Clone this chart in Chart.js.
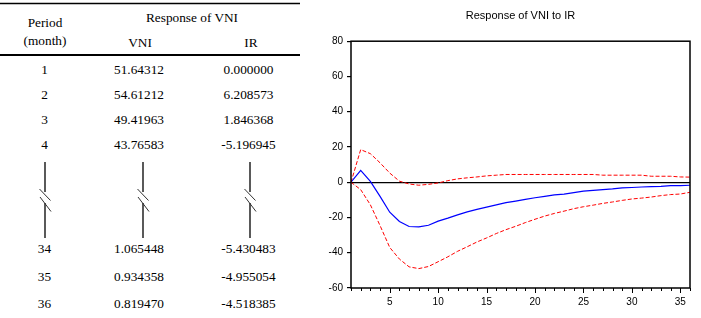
<!DOCTYPE html>
<html>
<head>
<meta charset="utf-8">
<script src="https://cdn.jsdelivr.net/npm/chart.js@4/dist/chart.umd.min.js"></script>
<style>
  html, body { margin: 0; padding: 0; background: #fff; }
  #wrap { position: relative; width: 701px; height: 318px; overflow: hidden; }
  #tbl { position: absolute; left: 0; top: 0; }
  #c { position: absolute; left: 0; top: 0; }
</style>
</head>
<body>
<div id="wrap">
  <svg id="tbl" width="310" height="318" xmlns="http://www.w3.org/2000/svg"></svg>
  <canvas id="c" width="701" height="318"></canvas>
</div>
<script>
// ---------- Table data ----------
const tablePeriods = ['1', '2', '3', '4', '34', '35', '36'];
const tableVNI = ['51.64312', '54.61212', '49.41963', '43.76583', '1.065448', '0.934358', '0.819470'];
const tableIR = ['0.000000', '6.208573', '1.846368', '-5.196945', '-5.430483', '-4.955054', '-4.518385'];

// ---------- Chart data ----------
const periods = [1,2,3,4,5,6,7,8,9,10,11,12,13,14,15,16,17,18,19,20,21,22,23,24,25,26,27,28,29,30,31,32,33,34,35,36];
const response = [0, 6.7, 0.5, -8, -17, -22.3, -25.1, -25.3, -24.4, -22.1, -20.4, -18.5, -16.8, -15.4, -14.1, -12.8, -11.6, -10.7, -9.7, -8.8, -8.0, -7.2, -6.7, -5.9, -5.1, -4.6, -4.2, -3.8, -3.2, -3.0, -2.7, -2.5, -2.3, -1.9, -1.9, -1.7];
const upperBand = [0, 18.5, 16.2, 11.0, 5.2, 0.6, -1.0, -1.7, -1.2, -0.4, 0.9, 1.9, 2.5, 3.0, 3.6, 4.0, 4.4, 4.4, 4.4, 4.4, 4.4, 4.4, 4.4, 4.4, 4.4, 4.4, 4.0, 4.0, 4.0, 4.0, 4.0, 3.4, 3.4, 3.4, 3.0, 2.9];
const lowerBand = [0, -4.2, -12.8, -24.6, -37, -43.6, -48, -49, -47.8, -45.1, -42.3, -39.2, -36.6, -33.9, -31.6, -29.1, -26.9, -25, -22.9, -21, -19.2, -17.7, -16.4, -15, -13.9, -13, -12, -11.2, -10.3, -9.5, -9.0, -8.4, -7.6, -7.0, -6.7, -5.7];
const yTicks = [-60, -40, -20, 0, 20, 40, 60, 80];
const chartTitle = 'Response of VNI to IR';

// ---------- Draw table (SVG text) ----------
(function () {
  const svg = document.getElementById('tbl');
  const NS = 'http://www.w3.org/2000/svg';
  function text(str, x, y) {
    const t = document.createElementNS(NS, 'text');
    t.setAttribute('x', x); t.setAttribute('y', y);
    t.setAttribute('text-anchor', 'middle');
    t.setAttribute('font-family', 'Liberation Serif, Times New Roman, serif');
    t.setAttribute('font-size', '13.3');
    t.setAttribute('fill', '#000');
    t.textContent = str;
    svg.appendChild(t);
  }
  function line(x1, y1, x2, y2, w, col) {
    const l = document.createElementNS(NS, 'line');
    l.setAttribute('x1', x1); l.setAttribute('y1', y1);
    l.setAttribute('x2', x2); l.setAttribute('y2', y2);
    l.setAttribute('stroke', col || '#000');
    l.setAttribute('stroke-width', w);
    svg.appendChild(l);
  }
  line(0, 3.5, 300, 3.5, 1.5);
  line(0, 55, 300, 55, 1.8);
  text('Period', 45, 27);
  text('(month)', 45, 45);
  text('Response of VNI', 192, 21.5);
  text('VNI', 140, 46.5);
  text('IR', 251, 46.5);
  const baselines = [74, 99, 124, 148.5, 253, 280.5, 308];
  for (let i = 0; i < tablePeriods.length; i++) {
    text(tablePeriods[i], 44.5, baselines[i]);
    text(tableVNI[i], 139, baselines[i]);
    text(tableIR[i], 248.5, baselines[i]);
  }
  [45, 143, 250].forEach(function (x) {
    line(x, 162, x, 192, 1.3);
    line(x, 203, x, 238, 1.3);
    line(x - 5.5, 189, x + 5.5, 200.5, 1, '#333');
    line(x - 5, 197, x + 6, 211.5, 1, '#333');
  });
})();

// ---------- Chart ----------
const pts = function (arr) { return periods.map(function (p, i) { return { x: p, y: arr[i] }; }); };

const framePlugin = {
  id: 'frame',
  afterDraw: function (chart) {
    const ctx = chart.ctx;
    const a = chart.chartArea;
    const xs = chart.scales.x;
    ctx.save();
    ctx.strokeStyle = '#000';
    ctx.lineWidth = 1.5;
    ctx.strokeRect(a.left, a.top, a.right - a.left, a.bottom - a.top);
    ctx.lineWidth = 1;
    for (let v = 1; v <= 36; v++) {
      const px = Math.round(xs.getPixelForValue(v)) + 0.5;
      ctx.beginPath();
      ctx.moveTo(px, a.bottom);
      ctx.lineTo(px, a.bottom + (v % 5 === 0 ? 5 : 3));
      ctx.stroke();
    }
    ctx.restore();
  }
};

new Chart(document.getElementById('c'), {
  type: 'line',
  data: {
    datasets: [
      { data: pts(upperBand), borderColor: '#ff0000', borderWidth: 1, borderDash: [4, 2], pointRadius: 0, tension: 0, fill: false },
      { data: pts(response), borderColor: '#0000ff', borderWidth: 1.2, pointRadius: 0, tension: 0, fill: false },
      { data: pts(lowerBand), borderColor: '#ff0000', borderWidth: 1, borderDash: [4, 2], pointRadius: 0, tension: 0, fill: false }
    ]
  },
  options: {
    responsive: false,
    animation: false,
    devicePixelRatio: 1,
    layout: { padding: { left: 311, right: 11, top: 0, bottom: 0 } },
    plugins: {
      legend: { display: false },
      tooltip: { enabled: false },
      title: {
        display: true,
        text: chartTitle,
        fullSize: false,
        color: '#000',
        font: { family: 'Arial, Liberation Sans, sans-serif', size: 11, weight: 'normal' },
        padding: { top: 9, bottom: 19 }
      }
    },
    scales: {
      x: {
        type: 'linear',
        min: 1,
        max: 36,
        afterFit: function (s) { s.height = 30; },
        grid: { display: false, drawTicks: false },
        border: { display: false },
        ticks: {
          stepSize: 1,
          autoSkip: false,
          maxRotation: 0,
          padding: 8,
          color: '#000',
          font: { family: 'Arial, Liberation Sans, sans-serif', size: 10 },
          callback: function (v) { return v % 5 === 0 ? String(v) : ''; }
        }
      },
      y: {
        min: -60,
        max: 80,
        afterFit: function (s) { s.width = 40; },
        afterBuildTicks: function (s) { s.ticks = yTicks.map(function (v) { return { value: v }; }); },
        border: { display: false },
        grid: {
          drawOnChartArea: true,
          color: function (c) { return c.tick && c.tick.value === 0 ? '#000' : 'rgba(0,0,0,0)'; },
          lineWidth: 1.2,
          tickColor: '#000',
          tickLength: 4
        },
        ticks: {
          padding: 4,
          color: '#000',
          font: { family: 'Arial, Liberation Sans, sans-serif', size: 10 }
        }
      }
    }
  },
  plugins: [framePlugin]
});
</script>
</body>
</html>
